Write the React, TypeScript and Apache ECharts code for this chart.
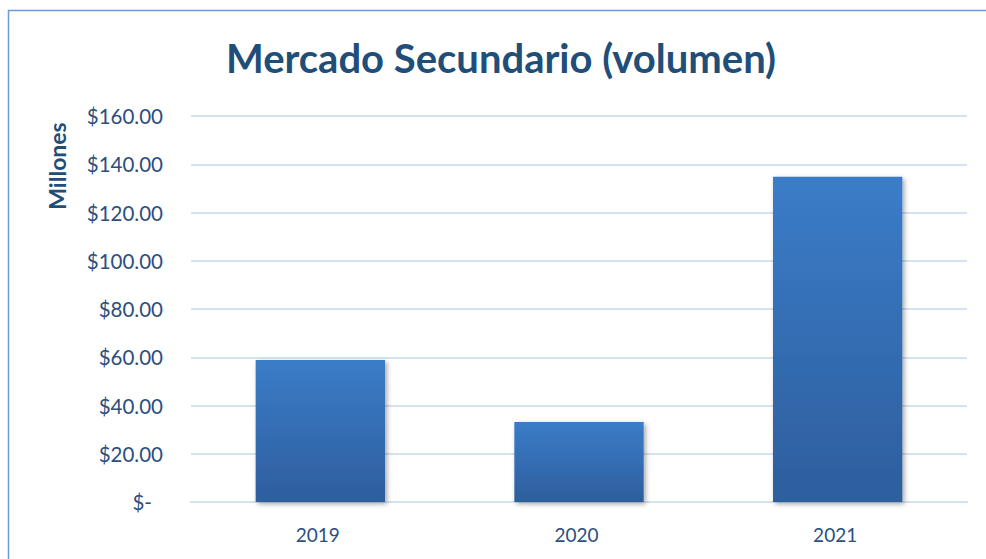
import React, { useEffect, useRef } from "react";
import * as echarts from "echarts";

const categories = ["2019", "2020", "2021"];
const volumen = [58.9, 33.2, 134.8];
const yTicks = { min: 0, max: 160, interval: 20 };
const titleText = "Mercado Secundario (volumen)";
const yName = "Millones";

export default function App() {
  const ref = useRef<HTMLDivElement>(null);
  useEffect(() => {
    if (!ref.current) return;
    const chart = echarts.init(ref.current, null, { renderer: "svg" });
    const labelColor = "#2B4F7E";
    chart.setOption({
      animation: false,
      textStyle: { fontFamily: "Lato" },
      grid: { left: 191, right: 19, top: 116, bottom: 57, containLabel: false },
      xAxis: {
        type: "category",
        data: categories,
        axisLine: { show: true, lineStyle: { color: "#D5E2F2", width: 2 } },
        axisTick: { show: false },
        axisLabel: { color: labelColor, fontSize: 19, fontFamily: "Lato", margin: 23, padding: [0, 5, 0, 0] },
      },
      yAxis: {
        type: "value",
        min: yTicks.min,
        max: yTicks.max,
        interval: yTicks.interval,
        axisLine: { show: false },
        axisTick: { show: false },
        splitLine: { lineStyle: { color: "#D5E2F2", width: 2 } },
        axisLabel: {
          color: labelColor,
          fontSize: 20.5,
          fontFamily: "Lato",
          margin: 28,
          formatter: (v: number) => (v === 0 ? "{z|$-}" : "$" + v.toFixed(2)),
          rich: { z: { color: labelColor, fontSize: 20.5, fontFamily: "Lato", padding: [0, 11, 0, 0] } },
        },
      },
      series: [
        {
          type: "bar",
          data: volumen,
          barWidth: "50%",
          itemStyle: {
            color: new echarts.graphic.LinearGradient(0, 0, 0, 1, [
              { offset: 0, color: "#3B7CC9" },
              { offset: 1, color: "#2D5E9D" },
            ]),
            shadowBlur: 5,
            shadowColor: "rgba(0,0,0,0.35)",
            shadowOffsetX: 2,
            shadowOffsetY: 2,
          },
        },
      ],
      graphic: [
        {
          type: "rect",
          shape: { x: 8.5, y: 10.5, width: 1100, height: 700 },
          style: { fill: "none", stroke: "#6B9BD8", lineWidth: 1.5 },
          silent: true,
        },
        {
          type: "text",
          x: 501,
          y: 58,
          style: {
            text: titleText,
            fill: "#1F4E79",
            font: "bold 40px Lato",
            textAlign: "center",
            textVerticalAlign: "middle",
          },
        },
        {
          type: "text",
          x: 57,
          y: 166,
          rotation: Math.PI / 2,
          style: {
            text: yName,
            fill: "#1F4E79",
            font: "bold 23px Lato",
            textAlign: "center",
            textVerticalAlign: "middle",
          },
        },
      ],
    });
    return () => chart.dispose();
  }, []);
  return (
    <div
      ref={ref}
      style={{ position: "absolute", left: 0, top: 0, width: 986, height: 559 }}
    />
  );
}
